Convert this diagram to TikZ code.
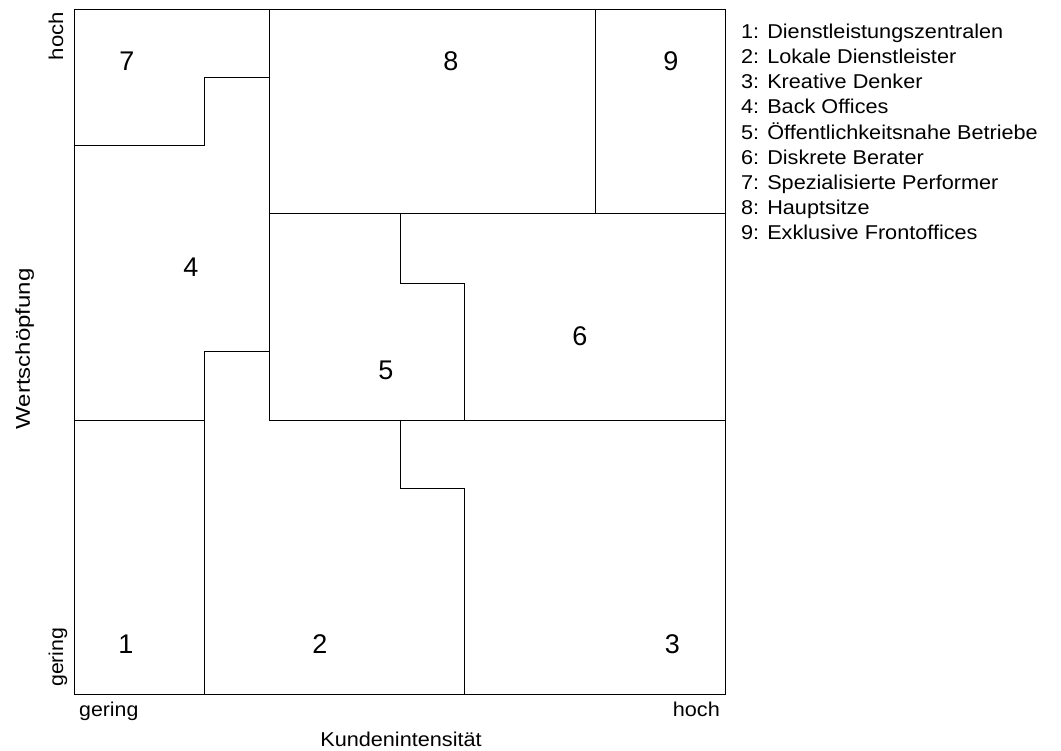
\documentclass[tikz,border=0pt]{standalone}
\usepackage{fontspec}
\setmainfont{Liberation Sans}
\usepackage{graphicx}
\newcommand{\wideT}[2][1.083]{\scalebox{#1}[1]{#2}}
\begin{document}
\begin{tikzpicture}[x=1pt,y=-1pt,
  border/.style={draw=black,line width=0.9pt},
  digit/.style={inner sep=0pt,font=\fontsize{27}{30}\selectfont},
  legend/.style={inner sep=0pt,anchor=base west,font=\fontsize{20}{24}\selectfont},
  axis/.style={inner sep=0pt,font=\fontsize{20}{24}\selectfont}]
\useasboundingbox (0,0) rectangle (1061,751);
% frame
\draw[border] (74,9) rectangle (725,694);
% region boundaries
\draw[border] (74,145) -- (204,145) -- (204,77) -- (269,77);
\draw[border] (269,9) -- (269,420);
\draw[border] (204,694) -- (204,351) -- (269,351);
\draw[border] (74,420) -- (204,420);
\draw[border] (269,213) -- (725,213);
\draw[border] (595,9) -- (595,213);
\draw[border] (400,213) -- (400,283) -- (464,283) -- (464,420);
\draw[border] (269,420) -- (725,420);
\draw[border] (400,420) -- (400,488) -- (464,488) -- (464,694);
% region numbers
\node[digit] (n7) at (127,61.5) {7};
\node[digit] (n8) at (451,61.5) {8};
\node[digit] (n9) at (671,61.5) {9};
\node[digit] (n4) at (191,267) {4};
\node[digit] (n5) at (386,370.5) {5};
\node[digit] (n6) at (580,336) {6};
\node[digit] (n1) at (126,644.5) {1};
\node[digit] (n2) at (320,644.5) {2};
\node[digit] (n3) at (672.5,644.5) {3};
% axis labels
\node[axis,rotate=90,anchor=base east] (yhoch) at (63,11.7) {\wideT[1.11]{hoch}};
\node[axis,rotate=90,anchor=base west] (ygering) at (63,687) {\wideT[1.065]{gering}};
\node[axis,rotate=90,anchor=base] (ylab) at (30,349) {\wideT[1.2]{Wertschöpfung}};
\node[axis,anchor=base west] (xgering) at (79,716.5) {\wideT[1.065]{gering}};
\node[axis,anchor=base east] (xhoch) at (720,716.5) {\wideT[1.083]{hoch}};
\node[axis,anchor=base] (xlab) at (401,746.5) {\wideT[1.083]{Kundenintensität}};
% legend
\node[legend] (l1) at (741,38.3) {\wideT{1: Dienstleistungszentralen}};
\node[legend] (l2) at (741,63.5) {\wideT{2: Lokale Dienstleister}};
\node[legend] (l3) at (741,88.7) {\wideT{3: Kreative Denker}};
\node[legend] (l4) at (741,113.9) {\wideT{4: Back Offices}};
\node[legend] (l5) at (741,139.1) {\wideT{5: Öffentlichkeitsnahe Betriebe}};
\node[legend] (l6) at (741,164.3) {\wideT{6: Diskrete Berater}};
\node[legend] (l7) at (741,189.5) {\wideT{7: Spezialisierte Performer}};
\node[legend] (l8) at (741,214.7) {\wideT{8: Hauptsitze}};
\node[legend] (l9) at (741,239.9) {\wideT{9: Exklusive Frontoffices}};
\end{tikzpicture}
\end{document}
